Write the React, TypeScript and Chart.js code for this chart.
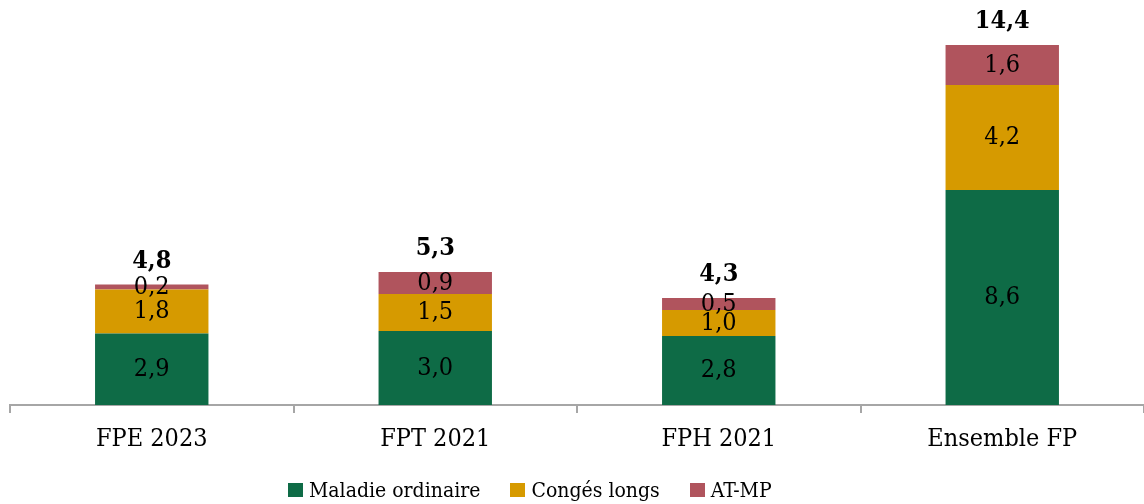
import React, { useEffect, useRef } from "react";
import { Chart, registerables } from "chart.js";

Chart.register(...registerables);

const categories = ["FPE 2023", "FPT 2021", "FPH 2021", "Ensemble FP"];
const seriesNames = ["Maladie ordinaire", "Congés longs", "AT-MP"];
const maladieOrdinaire = [2.86, 2.96, 2.76, 8.6];
const congesLongs = [1.76, 1.48, 1.04, 4.2];
const atMp = [0.2, 0.88, 0.48, 1.6];
const seriesColors = ["#0E6B46", "#D69A00", "#B0545D"];
const yMax = 16;

const FONT = "'DejaVu Serif Condensed', 'DejaVu Serif', serif";
const FS = 25;
const LEGEND_FS = 21;
const fmt = (v: number) => v.toFixed(1).replace(".", ",");

const labelsPlugin = {
  id: "barLabels",
  afterDatasetsDraw(chart: any) {
    const ctx = chart.ctx;
    ctx.save();
    ctx.fillStyle = "#000";
    ctx.textAlign = "center";
    ctx.textBaseline = "middle";
    ctx.font = `${FS}px ${FONT}`;
    chart.data.datasets.forEach((ds: any, di: number) => {
      const meta = chart.getDatasetMeta(di);
      meta.data.forEach((el: any, i: number) => {
        const v = ds.data[i];
        ctx.fillText(fmt(v), el.x, (el.y + el.base) / 2);
      });
    });
    const last = chart.getDatasetMeta(chart.data.datasets.length - 1);
    ctx.font = `bold ${FS}px ${FONT}`;
    ctx.textBaseline = "alphabetic";
    last.data.forEach((el: any, i: number) => {
      const total = maladieOrdinaire[i] + congesLongs[i] + atMp[i];
      ctx.fillText(fmt(total), el.x, el.y - 17);
    });
    ctx.restore();
  },
};

export default function App() {
  const ref = useRef<HTMLCanvasElement>(null);
  useEffect(() => {
    document.body.style.margin = "0";
    const chart = new Chart(ref.current as HTMLCanvasElement, {
      type: "bar",
      data: {
        labels: categories,
        datasets: [maladieOrdinaire, congesLongs, atMp].map((d, k) => ({
          label: seriesNames[k],
          data: d,
          backgroundColor: seriesColors[k],
          borderWidth: 0,
          barPercentage: 0.4,
          categoryPercentage: 1.0,
        })),
      },
      options: {
        animation: false,
        responsive: false,
        maintainAspectRatio: false,
        layout: { padding: { left: 10, right: 0, top: 5, bottom: 39 } },
        plugins: {
          tooltip: { enabled: false },
          legend: { display: false },
        },
        scales: {
          x: {
            stacked: true,
            grid: {
              display: true,
              drawOnChartArea: false,
              offset: true,
              tickLength: 8,
              color: "#a6a6a6",
              lineWidth: 2,
            },
            border: { color: "#a6a6a6", width: 2 },
            ticks: { color: "#000", font: { family: FONT, size: FS }, padding: 11 },
          },
          y: { stacked: true, display: false, min: 0, max: yMax },
        },
      },
      plugins: [labelsPlugin],
    });
    return () => chart.destroy();
  }, []);
  return (
    <div style={{ position: "relative", width: 1144, height: 504 }}>
      <canvas ref={ref} width={1144} height={504} style={{ display: "block" }} />
      <div
        style={{
          position: "absolute",
          left: 288,
          top: 476,
          height: 28,
          display: "flex",
          alignItems: "center",
          gap: 30,
          fontFamily: FONT,
          fontSize: LEGEND_FS,
          color: "#000",
          whiteSpace: "nowrap",
        }}
      >
        {seriesNames.map((name, k) => (
          <div key={name} style={{ display: "flex", alignItems: "center" }}>
            <span
              style={{
                display: "inline-block",
                width: 15,
                height: 14,
                background: seriesColors[k],
                marginRight: 6,
              }}
            />
            <span style={{ lineHeight: 1 }}>{name}</span>
          </div>
        ))}
      </div>
    </div>
  );
}
